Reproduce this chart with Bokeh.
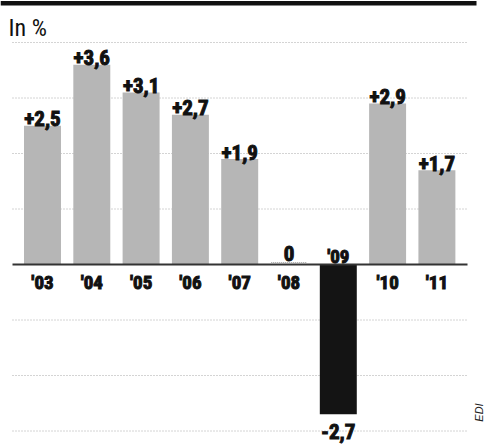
import math
from bokeh.plotting import figure
from bokeh.models import ColumnDataSource, Range1d, Label
from bokeh.core.properties import value
from bokeh.embed import file_html
from bokeh.resources import INLINE

# ---- data ----
years = ["'03", "'04", "'05", "'06", "'07", "'08", "'09", "'10", "'11"]
values = [2.5, 3.6, 3.1, 2.7, 1.9, 0.0, -2.7, 2.9, 1.7]
value_labels = ["+2,5", "+3,6", "+3,1", "+2,7", "+1,9", "0", "-2,7", "+2,9", "+1,7"]
grid_values = [4, 3, 2, 1, -1, -2, -3]
unit_label = "In %"
source_label = "EDI"

# ---- layout helpers (pixel -> data) ----
W, H = 484, 444
X0, DX = 42.0, 49.3     # pixel of first category centre, pixels per category
Y0, DY = 264.0, 55.5    # pixel of zero line, pixels per unit


def px_x(px):
    return (px - X0) / DX


def px_y(py):
    return (Y0 - py) / DY


NARROW = "'Roboto Condensed', 'Liberation Sans Narrow', 'DejaVu Sans Condensed', Roboto, sans-serif"

p = figure(width=W, height=H, output_backend="svg", toolbar_location=None,
           x_range=Range1d(px_x(0), px_x(W)), y_range=Range1d(px_y(H), px_y(0)),
           min_border=0, min_border_left=0, min_border_right=0,
           min_border_top=0, min_border_bottom=0)
p.axis.visible = False
p.grid.visible = False
p.outline_line_color = None
p.background_fill_color = "white"
p.border_fill_color = "white"

# top black rule
p.quad(left=[px_x(0)], right=[px_x(476)], top=[px_y(0.5)], bottom=[px_y(5)],
       fill_color="#111111", line_color=None)

# dotted gridlines
gx0, gx1 = px_x(12), px_x(466)
p.segment(x0=[gx0] * len(grid_values), x1=[gx1] * len(grid_values),
          y0=grid_values, y1=grid_values,
          line_color="#a8a8a8", line_width=1, line_dash="1 2")

# bars
xs = list(range(len(years)))
colors = ["#141414" if v < 0 else "#b6b6b6" for v in values]
src = ColumnDataSource(dict(x=xs, top=values, color=colors))
p.vbar(x="x", top="top", bottom=0, width=0.75, fill_color="color",
       line_color=None, source=src)
# thin sliver for the zero year
zero_x = [i for i, v in enumerate(values) if v == 0]
p.segment(x0=[x - 0.36 for x in zero_x], x1=[x + 0.36 for x in zero_x],
          y0=[px_y(Y0 - 2)] * len(zero_x), y1=[px_y(Y0 - 2)] * len(zero_x),
          line_color="#9a9a9a", line_width=1, line_dash="1 1")

# zero line
p.segment(x0=[gx0], x1=[px_x(467)], y0=[0], y1=[0], line_color="#333333", line_width=2)

HEAVY = dict(text_font=value(NARROW), text_font_style="bold",
             text_color="#111111", text_outline_color="#111111")

# value labels
pos = [i for i, v in enumerate(values) if v >= 0]
neg = [i for i, v in enumerate(values) if v < 0]
pos_src = ColumnDataSource(dict(
    x=[xs[i] for i in pos], y=[values[i] for i in pos],
    t=[value_labels[i] for i in pos],
    off=[-11 if values[i] == 0 else -7 for i in pos]))
p.text(x="x", y="y", text="t", y_offset="off", source=pos_src,
       text_font_size="21px", text_align="center", text_baseline="alphabetic", **HEAVY)
neg_src = ColumnDataSource(dict(
    x=[xs[i] for i in neg], y=[values[i] for i in neg],
    t=[value_labels[i] for i in neg]))
p.text(x="x", y="y", text="t", y_offset=10, source=neg_src,
       text_font_size="21px", text_align="center", text_baseline="top", **HEAVY)

# category labels (below zero line, above it for negative bars)
cat_below = ColumnDataSource(dict(x=[xs[i] for i in pos], y=[0] * len(pos),
                                  t=[years[i] for i in pos]))
p.text(x="x", y="y", text="t", y_offset=6, source=cat_below,
       text_font_size="19px", text_align="center", text_baseline="top", **HEAVY)
cat_above = ColumnDataSource(dict(x=[xs[i] for i in neg], y=[0] * len(neg),
                                  t=[years[i] for i in neg]))
p.text(x="x", y="y", text="t", y_offset=-8, source=cat_above,
       text_font_size="19px", text_align="center", text_baseline="alphabetic", **HEAVY)

# unit label
p.add_layout(Label(x=px_x(8), y=px_y(27), text=unit_label,
                   text_font=NARROW, text_font_size="24px",
                   text_baseline="alphabetic", text_align="left", text_color="#111111"))

# source credit (rotated)
p.add_layout(Label(x=px_x(478), y=px_y(412), text=source_label, angle=math.pi / 2,
                   text_font="'Liberation Sans', sans-serif", text_font_style="italic",
                   text_font_size="11px", text_align="center", text_baseline="middle",
                   text_color="#222222"))

open("out.html", "w").write(file_html(p, INLINE))
